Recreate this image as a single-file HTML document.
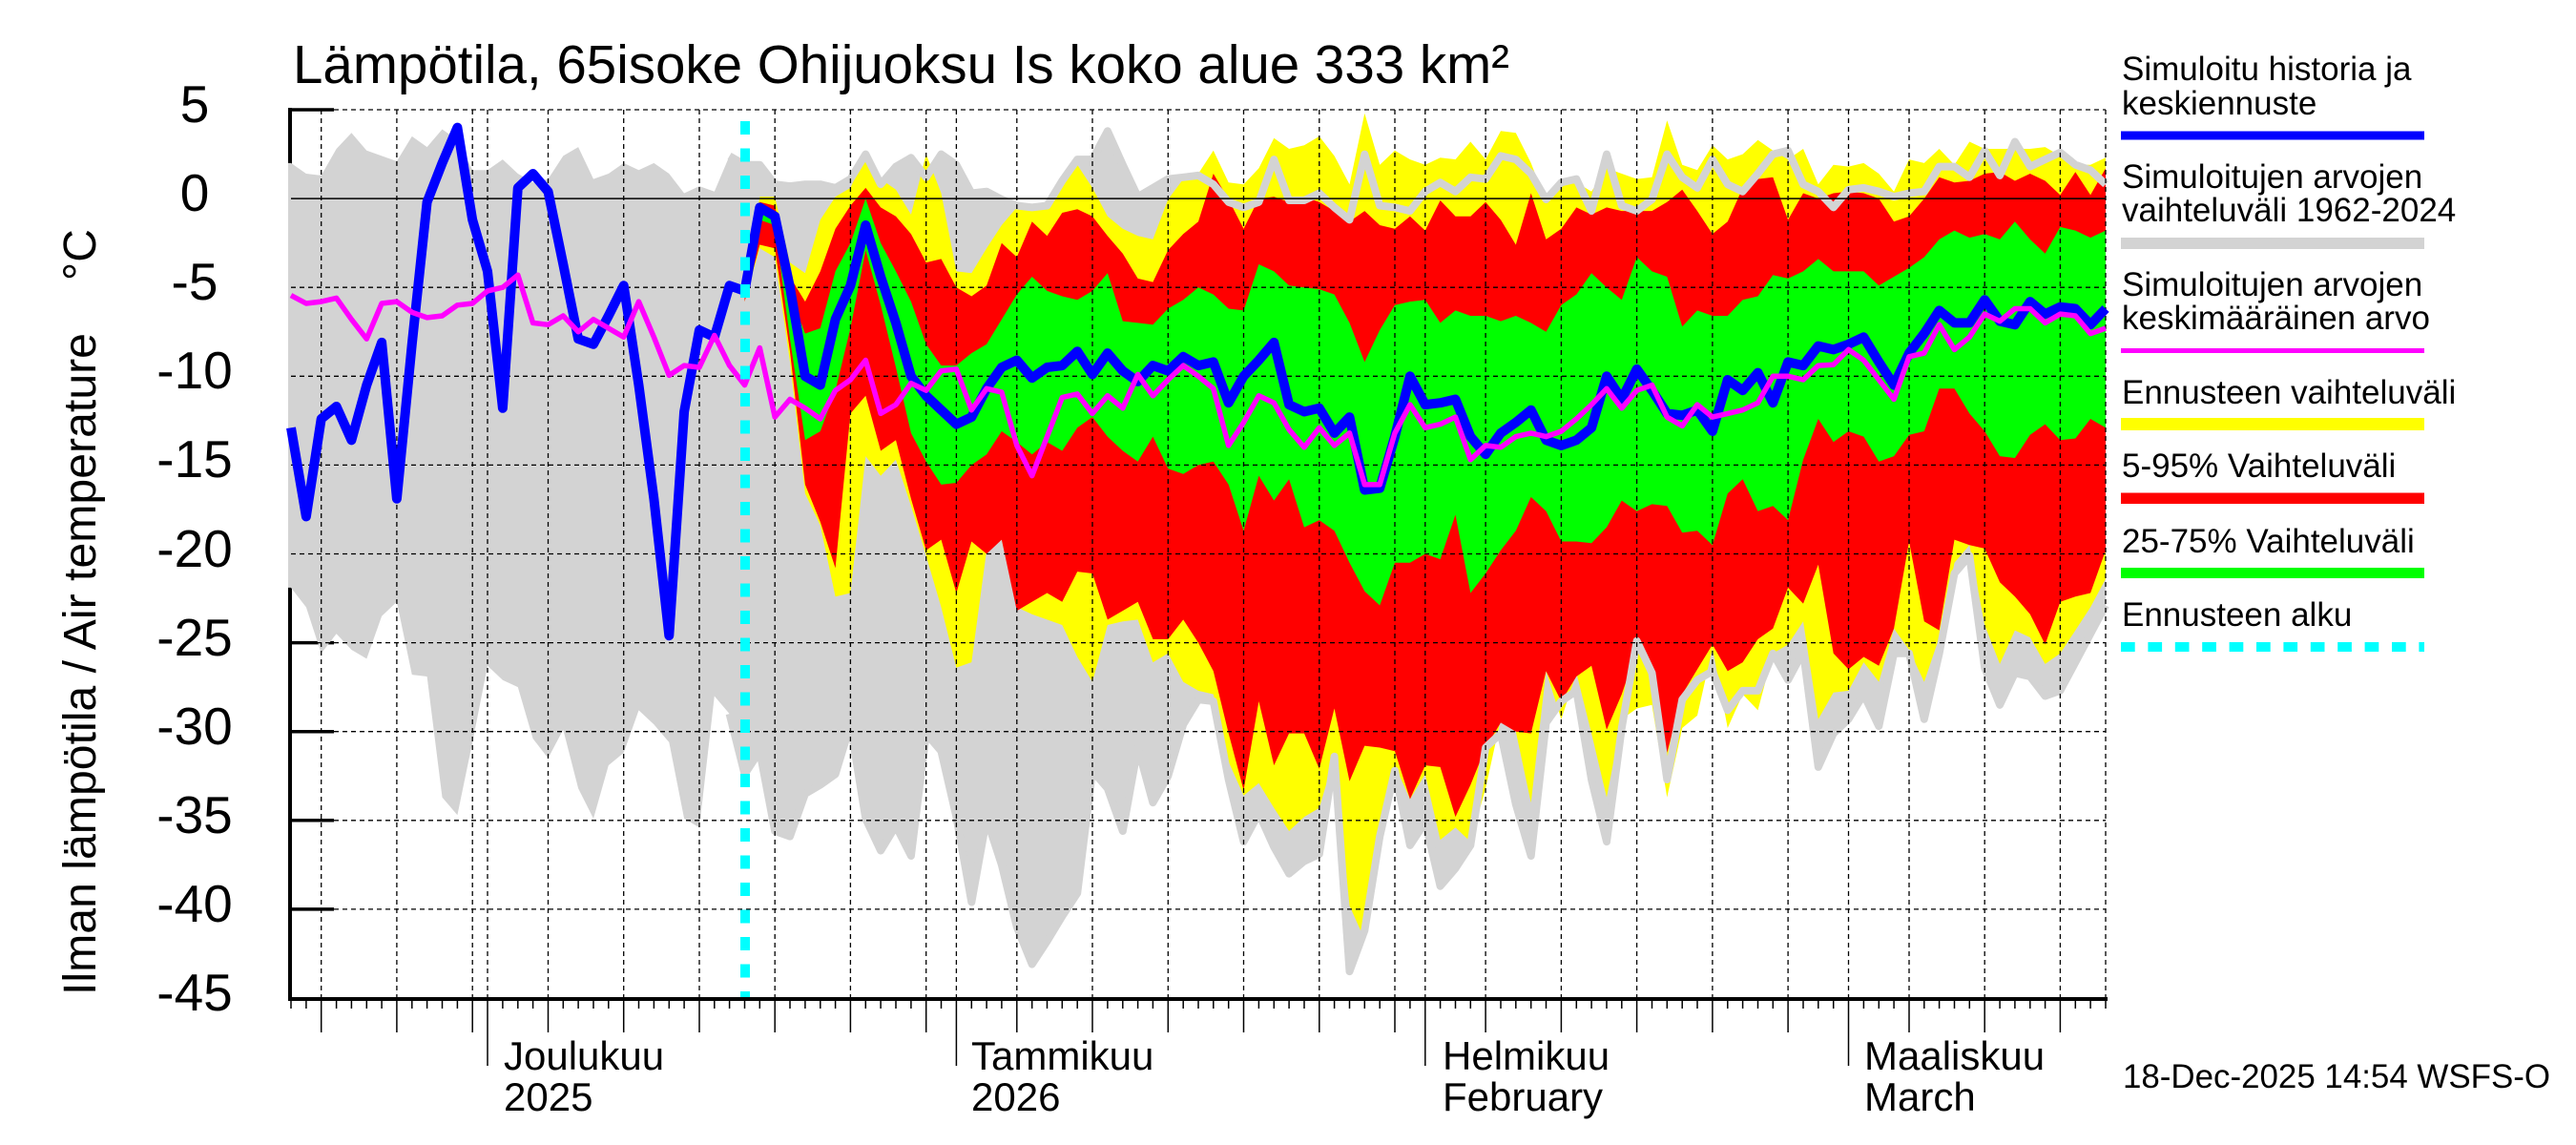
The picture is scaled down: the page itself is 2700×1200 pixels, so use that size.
<!DOCTYPE html>
<html><head><meta charset="utf-8">
<style>
html,body{margin:0;padding:0;background:#fff;}
svg{display:block;}
text{font-family:"Liberation Sans",Arial,sans-serif;fill:#000;}
</style></head>
<body>
<svg id="c" width="2700" height="1200" viewBox="0 0 2700 1200" xmlns="http://www.w3.org/2000/svg">
<rect x="0" y="0" width="2700" height="1200" fill="#fff"/>
<!-- left axis and y ticks (under data) -->
<line x1="304" y1="113" x2="304" y2="1049" stroke="#000" stroke-width="4"/>
<g id="yticks" stroke="#000" stroke-width="3.5"></g>
<path id="gray" fill="#d3d3d3"/>
<path id="yel" fill="#ffff00"/>
<path id="red" fill="#ff0000"/>
<path id="grn" fill="#00ff00"/>
<path id="gmax" fill="none" stroke="#d3d3d3" stroke-width="8" stroke-linejoin="round"/>
<path id="gmin" fill="none" stroke="#d3d3d3" stroke-width="8" stroke-linejoin="round"/>
<g id="grid" stroke="#000" stroke-width="1.3" stroke-dasharray="5 4" fill="none"></g>
<line x1="305" y1="208.1" x2="2207" y2="208.1" stroke="#000" stroke-width="1.5"/>
<path id="blue" fill="none" stroke="#0000ff" stroke-width="10" stroke-linejoin="round"/>
<path id="mag" fill="none" stroke="#ff00ff" stroke-width="5.5" stroke-linejoin="round"/>
<line x1="781" y1="127" x2="781" y2="1047" stroke="#00ffff" stroke-width="10" stroke-dasharray="14 14.5"/>
<!-- bottom axis -->
<line x1="302" y1="1047" x2="2209" y2="1047" stroke="#000" stroke-width="4"/>
<g id="xticks" stroke="#000" stroke-width="1.5"></g>

<!-- title -->
<text x="307" y="87" font-size="57" textLength="1275" lengthAdjust="spacingAndGlyphs">Lämpötila, 65isoke Ohijuoksu Is koko alue 333 km²</text>

<!-- y label -->
<text transform="translate(100,1043) rotate(-90)" font-size="48" textLength="694" lengthAdjust="spacingAndGlyphs">Ilman lämpötila / Air temperature</text>
<text transform="translate(100,294) rotate(-90)" font-size="48">°C</text>

<!-- y tick labels -->
<g font-size="55" text-anchor="middle">
<text x="204" y="128">5</text>
<text x="204" y="221">0</text>
<text x="204" y="314">-5</text>
<text x="204" y="407">-10</text>
<text x="204" y="500">-15</text>
<text x="204" y="594">-20</text>
<text x="204" y="687">-25</text>
<text x="204" y="780">-30</text>
<text x="204" y="873">-35</text>
<text x="204" y="966">-40</text>
<text x="204" y="1059">-45</text>
</g>

<!-- month labels -->
<g font-size="42">
<text x="528" y="1121">Joulukuu</text>
<text x="528" y="1164">2025</text>
<text x="1018" y="1121">Tammikuu</text>
<text x="1018" y="1164">2026</text>
<text x="1512" y="1121">Helmikuu</text>
<text x="1512" y="1164">February</text>
<text x="1954" y="1121">Maaliskuu</text>
<text x="1954" y="1164">March</text>
</g>

<!-- legend -->
<g font-size="35">
<text x="2224" y="84">Simuloitu historia ja</text>
<text x="2224" y="120">keskiennuste</text>
<rect x="2223" y="137.5" width="318" height="9" fill="#0000ff"/>
<text x="2224" y="197">Simuloitujen arvojen</text>
<text x="2224" y="232">vaihteluväli 1962-2024</text>
<rect x="2223" y="249" width="318" height="12" fill="#d3d3d3"/>
<text x="2224" y="310">Simuloitujen arvojen</text>
<text x="2224" y="345">keskimääräinen arvo</text>
<rect x="2223" y="365" width="318" height="5" fill="#ff00ff"/>
<text x="2224" y="423">Ennusteen vaihteluväli</text>
<rect x="2223" y="438" width="318" height="13" fill="#ffff00"/>
<text x="2224" y="500">5-95% Vaihteluväli</text>
<rect x="2223" y="516.5" width="318" height="11.5" fill="#ff0000"/>
<text x="2224" y="579">25-75% Vaihteluväli</text>
<rect x="2223" y="595" width="318" height="11" fill="#00ff00"/>
<text x="2224" y="656">Ennusteen alku</text>
<line x1="2223" y1="678" x2="2541" y2="678" stroke="#00ffff" stroke-width="10" stroke-dasharray="14.7 13.7"/>
</g>

<text x="2225" y="1140" font-size="35" textLength="448" lengthAdjust="spacingAndGlyphs">18-Dec-2025 14:54 WSFS-O</text>
</svg>
<script>
(function(){
var NS="http://www.w3.org/2000/svg";
function X(d){return 305+d*15.85;}
function Y(v){return 115+(5-v)*18.62;}
function f(n){return n.toFixed(1);}
function line(arr,start){var s="";for(var i=0;i<arr.length;i++){s+=(i?"L":"M")+f(X(i+start))+" "+f(Y(arr[i]));}return s;}
function band(top,bot,start){var s=line(top,start);for(var i=bot.length-1;i>=0;i--){s+="L"+f(X(i+start))+" "+f(Y(bot[i]));}return s+"Z";}
function el(tag,attrs,parent){var e=document.createElementNS(NS,tag);for(var k in attrs)e.setAttribute(k,attrs[k]);parent.appendChild(e);return e;}

var blue=[-12.9,-17.9,-12.4,-11.7,-13.6,-10.5,-8.1,-16.9,-8.2,-0.2,
2.0,4.0,-1.2,-4.1,-11.8,0.6,1.4,0.4,-3.7,-7.9,
-8.2,-6.6,-4.9,-10.5,-16.9,-24.6,-12,-7.4,-7.8,-4.9,
-5.2,-0.5,-1.0,-5.0,-10.0,-10.5,-6.8,-4.9,-1.5,-4.4,
-7.0,-10.0,-11.1,-11.9,-12.7,-12.3,-10.7,-9.5,-9.1,-10.1,
-9.5,-9.4,-8.6,-9.9,-8.7,-9.7,-10.3,-9.4,-9.7,-8.9,
-9.4,-9.2,-11.5,-10.0,-9.1,-8.1,-11.6,-12.0,-11.8,-13.2,
-12.3,-16.4,-16.3,-13.4,-10.0,-11.6,-11.5,-11.3,-13.4,-14.4,
-13.2,-12.6,-11.9,-13.6,-13.9,-13.6,-12.9,-10.0,-11.3,-9.6,
-10.8,-12.1,-12.2,-11.9,-13.1,-10.2,-10.8,-9.8,-11.5,-9.2,
-9.4,-8.3,-8.5,-8.2,-7.8,-9.2,-10.5,-8.7,-7.6,-6.3,
-7.0,-7.0,-5.7,-6.9,-7.1,-5.8,-6.5,-6.1,-6.2,-7.1,
-6.2];
var mag=[-5.45,-5.9,-5.8,-5.6,-6.8,-7.9,-5.9,-5.8,-6.4,-6.7,
-6.6,-6.0,-5.9,-5.2,-5.0,-4.3,-7.0,-7.1,-6.6,-7.5,
-6.8,-7.3,-7.8,-5.8,-7.8,-9.95,-9.4,-9.5,-7.7,-9.4,
-10.5,-8.4,-12.3,-11.3,-11.8,-12.4,-10.8,-10.2,-9.1,-12.1,
-11.6,-10.4,-10.8,-9.7,-9.6,-11.9,-10.7,-10.9,-13.9,-15.6,
-13.4,-11.2,-11.0,-12.1,-11.1,-11.8,-9.9,-11.1,-10.2,-9.4,
-10.0,-10.7,-13.9,-12.6,-11.1,-11.5,-13.0,-14.0,-12.9,-13.9,
-13.2,-16.1,-16.1,-13.2,-11.6,-12.9,-12.7,-12.3,-14.7,-13.9,
-14.0,-13.4,-13.2,-13.4,-13.1,-12.4,-11.6,-10.7,-11.8,-10.8,
-10.5,-12.3,-12.8,-11.6,-12.3,-12.1,-11.9,-11.5,-10.0,-10.0,
-10.2,-9.4,-9.35,-8.5,-9.1,-10.2,-11.3,-8.9,-8.7,-7.1,
-8.5,-7.8,-6.5,-6.9,-6.2,-6.2,-7.0,-6.5,-6.6,-7.6,
-7.3];
var gmax=[2.0,1.4,1.3,2.8,3.7,2.7,2.4,2.1,3.5,2.9,
3.9,3.3,1.6,1.6,2.2,1.4,0.9,1.1,2.4,2.9,
1.1,1.4,2.0,1.6,2.0,1.4,0.3,0.7,0.4,2.4,
1.9,1.9,0.8,0.7,0.8,0.8,0.6,1.1,2.5,0.8,
1.8,2.3,1.2,2.5,1.9,0.3,0.4,-0.05,-0.4,-0.5,
-0.4,1.0,2.2,2.2,3.8,1.9,0.1,0.6,1.1,1.2,
1.3,0.8,-0.2,-0.5,-0.2,2.2,-0.1,-0.1,0.3,-0.5,
-1.2,2.5,-0.4,-0.5,-0.7,0.4,0.9,0.4,1.2,1.1,
2.4,2.2,1.4,-0.05,0.9,1.1,-0.7,2.5,-0.4,-0.7,
-0.05,2.5,1.2,0.6,2.2,0.8,0.4,1.4,2.5,2.7,
0.8,0.4,-0.5,0.5,0.6,0.4,0.1,0.3,0.4,1.8,
1.8,1.2,2.7,1.3,3.2,1.8,2.2,2.6,1.9,1.6,
0.8];
var gmin=[-21.9,-23.0,-25.6,-24.5,-25.4,-25.9,-23.5,-22.7,-26.8,-26.9,
-33.7,-34.7,-30.6,-26.3,-27.1,-27.5,-30.4,-31.5,-29.9,-33.2,
-34.9,-31.9,-31.2,-28.8,-29.6,-30.6,-34.9,-35.4,-28.0,-29.0,
-32.4,-31.1,-35.6,-35.9,-33.5,-33.0,-32.4,-29.6,-34.9,-36.7,
-35.3,-37.0,-30.1,-31.1,-34.8,-39.6,-34.9,-37.5,-41.0,-43.1,
-41.8,-40.4,-39.1,-32.2,-33.2,-35.6,-30.9,-34.0,-32.5,-29.6,
-28.2,-28.3,-32.7,-36.2,-34.6,-36.5,-38.0,-37.3,-36.9,-31.4,
-43.5,-41.2,-35.9,-32.2,-36.4,-35.1,-38.7,-37.7,-36.4,-30.9,
-30.1,-34.1,-37.0,-29.5,-28.3,-27.7,-32.7,-36.2,-29.8,-24.9,
-26.7,-32.7,-28.2,-27.1,-26.6,-28.8,-27.7,-27.7,-25.6,-27.1,
-25.5,-32.0,-30.1,-29.3,-27.9,-29.7,-25.6,-25.6,-29.3,-25.6,
-21.1,-20.1,-26.4,-28.5,-26.7,-26.9,-28.0,-27.7,-26.1,-24.5,
-22.9];
var ytop=[-5.0,0.1,0.1,-3.6,-4.2,-1.2,0.1,0.6,2.5,1.1,
0.5,-0.9,2.5,0.3,-4.1,-4.2,-2.8,-1.5,-0.5,-0.4,
-0.2,1.1,1.9,0.6,-1.0,-1.7,-2.1,-2.3,-0.05,1.1,
1.4,2.7,0.9,0.8,1.7,3.4,2.8,3.0,3.5,2.4,
0.8,4.8,1.9,2.7,2.2,1.9,2.3,2.2,3.2,2.2,
3.8,3.7,2.0,-0.2,0.9,0.9,0.4,1.7,1.4,1.1,
1.2,4.4,1.9,1.6,3.0,2.2,2.5,3.3,2.7,2.2,
2.8,0.8,1.9,1.8,2.0,1.4,0.4,2.2,2.0,2.8,
1.9,3.2,2.8,2.8,2.8,2.8,2.9,2.4,1.9,1.9,
2.3];
var ybot=[-5.8,-2.8,-3.3,-9.2,-16.6,-18.4,-22.4,-22.2,-14.5,-15.6,
-14.7,-17.3,-20.1,-23.0,-26.4,-26.1,-19.8,-19.2,-23.0,-23.4,
-23.7,-24.0,-25.8,-27.2,-24.0,-23.8,-23.7,-26.1,-25.6,-27.2,
-27.7,-27.9,-31.7,-33.6,-32.9,-34.3,-35.6,-34.8,-34.3,-31.4,
-39.8,-41.7,-35.6,-31.9,-33.8,-32.4,-36.1,-35.4,-36.2,-33.2,
-29.3,-30.0,-34.0,-26.6,-29.3,-26.7,-30.1,-33.7,-29.3,-28.7,
-28.5,-33.7,-29.8,-29.1,-25.3,-29.8,-27.9,-28.8,-25.6,-25.1,
-23.8,-29.3,-27.8,-27.7,-26.1,-27.2,-24.2,-25.4,-27.2,-24.7,
-20.5,-19.5,-24.0,-26.2,-24.3,-24.7,-26.2,-25.6,-24.3,-23.0,
-21.4];
var rtop=[-5.0,-0.2,-0.4,-4.4,-5.8,-4.1,-1.7,-0.4,0.6,-0.5,
-1.0,-2.0,-3.6,-3.4,-5.0,-5.5,-4.9,-2.5,-3.3,-1.3,
-2.1,-0.8,-0.6,-1.0,-2.1,-3.1,-4.5,-4.7,-2.9,-2.0,
-1.3,1.4,-0.05,-1.7,0,0.1,-0.2,0.1,-0.2,-0.7,
-1.3,-0.7,-1.5,-1.7,-1.0,-1.8,-0.1,-1.0,-1.0,-0.2,
-1.2,-2.6,0.3,-2.3,-1.7,-0.5,-0.9,-0.5,-0.7,-0.7,
-0.7,-0.2,0.5,-0.7,-2.0,-1.3,0.6,1.1,1.2,-1.2,
0.3,0.0,0.3,0.4,0.3,0.0,-1.3,-1.0,0.0,1.2,
0.9,1.0,1.4,1.5,1.0,1.4,1.0,0.2,1.5,0.2,
1.7];
var rbot=[-5.8,-2.6,-2.8,-8.6,-16.1,-18.2,-20.8,-12.1,-11.1,-14.2,
-13.6,-16.9,-19.8,-19.2,-22.2,-19.3,-20.0,-19.2,-23.2,-22.7,
-22.2,-22.7,-21.0,-21.1,-23.7,-23.2,-22.7,-24.8,-24.8,-23.7,
-25.0,-26.6,-30.1,-33.3,-28.3,-31.9,-30.1,-30.1,-32.1,-28.7,
-32.8,-30.8,-30.9,-31.1,-33.8,-31.9,-32.0,-34.8,-33.0,-30.9,
-29.5,-30.0,-30.1,-26.6,-28.3,-26.9,-26.3,-29.9,-27.9,-25.4,
-26.9,-31.2,-27.9,-26.5,-25.1,-26.6,-26.1,-24.8,-24.2,-21.9,
-22.8,-20.6,-25.6,-26.5,-25.8,-26.3,-24.2,-19.3,-23.8,-24.3,
-19.2,-19.5,-19.7,-21.6,-22.4,-23.4,-25.1,-22.7,-22.4,-22.2,
-19.8];
var gtop=[-5.1,-0.7,-1.2,-5.4,-7.6,-7.3,-4.1,-2.5,0.0,-2.5,
-4.1,-5.8,-8.2,-9.4,-9.4,-8.7,-8.2,-6.8,-5.4,-4.4,
-5.2,-5.5,-5.7,-5.2,-4.2,-6.9,-7.0,-7.1,-6.2,-5.7,
-5.0,-5.4,-6.2,-6.3,-3.7,-4.1,-4.9,-5.0,-5.1,-5.4,
-7.0,-9.2,-7.4,-6.0,-5.8,-5.7,-7.0,-6.3,-6.6,-6.6,
-6.9,-6.6,-7.0,-7.5,-6.0,-5.4,-4.2,-5.0,-5.7,-3.3,
-4.1,-4.4,-7.2,-6.3,-6.6,-6.6,-5.7,-5.5,-4.3,-4.5,
-4.1,-3.4,-4.1,-4.1,-4.1,-4.9,-4.4,-3.9,-3.3,-2.3,
-1.8,-2.2,-2.0,-2.3,-1.3,-2.3,-3.1,-1.6,-1.8,-2.2,
-1.8];
var gbot=[-5.3,-1.2,-1.5,-7.9,-13.6,-13.1,-10.8,-7.3,-2.9,-6.0,
-9.5,-13.2,-14.8,-16.1,-16.0,-15.0,-14.4,-13.1,-13.7,-14.4,
-13.7,-14.2,-12.9,-12.3,-13.4,-14.2,-14.8,-13.4,-15.2,-15.5,
-15.0,-14.8,-16.1,-18.7,-15.6,-17.0,-15.8,-18.5,-18.1,-18.7,
-20.5,-22.1,-22.9,-20.5,-20.5,-20.0,-20.3,-17.8,-22.2,-21.1,
-19.8,-18.7,-16.8,-17.6,-19.3,-19.3,-19.4,-18.5,-17.0,-17.6,
-17.2,-17.3,-18.8,-18.7,-19.5,-16.6,-15.8,-17.6,-17.3,-18.1,
-14.7,-12.4,-13.7,-13.1,-13.4,-14.8,-14.5,-13.3,-13.1,-10.7,
-10.7,-12.1,-13.1,-14.5,-14.6,-13.3,-12.7,-13.6,-13.5,-12.4,
-12.9];

// gray full band (start slightly left to cover axis like the original)
var gp="M302 "+f(Y(gmax[0]))+"L"+line(gmax,0).slice(1);
for(var i=gmin.length-1;i>=0;i--){gp+="L"+f(X(i))+" "+f(Y(gmin[i]));}
gp+="L302 "+f(Y(gmin[0]))+"Z";
document.getElementById("gray").setAttribute("d",gp);
document.getElementById("yel").setAttribute("d",band(ytop,ybot,30));
document.getElementById("red").setAttribute("d",band(rtop,rbot,30));
document.getElementById("grn").setAttribute("d",band(gtop,gbot,30));
document.getElementById("gmax").setAttribute("d",line(gmax.slice(29),29));
document.getElementById("gmin").setAttribute("d",line(gmin.slice(29),29));
document.getElementById("blue").setAttribute("d",line(blue,0));
document.getElementById("mag").setAttribute("d",line(mag,0));

// y ticks
var yt=document.getElementById("yticks");
for(var v=5;v>=-40;v-=5){var y=Y(v);el("line",{x1:304,y1:f(y),x2:350,y2:f(y)},yt);}

// grid
var g=document.getElementById("grid");
for(var v2=5;v2>=-40;v2-=5){if(v2===0)continue;var yy=Y(v2);el("line",{x1:305,y1:f(yy),x2:2207,y2:f(yy)},g);}
el("line",{x1:2207,y1:115,x2:2207,y2:1046},g);
function dom(d){if(d<=12)return d+18;if(d<=43)return d-12;if(d<=74)return d-43;if(d<=102)return d-74;return d-102;}
var xt=document.getElementById("xticks");
for(var d=0;d<=120;d++){
  var x=f(X(d)),dm=dom(d),len=1057;
  if(dm===1){len=1117;}else if(dm%5===0){len=1082;}
  if(d<=12&&dm%5===0){len=1082;}
  el("line",{x1:x,y1:1047,x2:x,y2:len},xt);
  if((dm===1&&d>0)||dm%5===0){el("line",{x1:x,y1:115,x2:x,y2:1046},g);}
}
})();
</script>
</body></html>
